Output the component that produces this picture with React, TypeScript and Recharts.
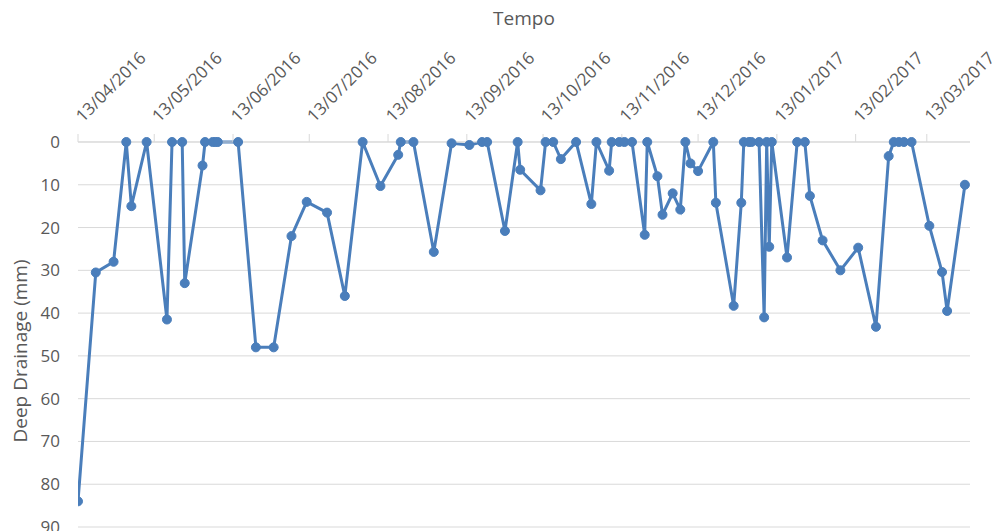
import React from 'react';
import { LineChart, Line, XAxis, YAxis, CartesianGrid } from 'recharts';

const dates = [
  '13/04/2016', '20/04/2016', '27/04/2016', '02/05/2016', '04/05/2016', '10/05/2016', '18/05/2016', '20/05/2016',
  '24/05/2016', '25/05/2016', '01/06/2016', '02/06/2016', '05/06/2016', '06/06/2016', '07/06/2016', '15/06/2016',
  '22/06/2016', '29/06/2016', '06/07/2016', '12/07/2016', '20/07/2016', '27/07/2016', '03/08/2016', '10/08/2016',
  '17/08/2016', '18/08/2016', '23/08/2016', '31/08/2016', '07/09/2016', '14/09/2016', '19/09/2016', '21/09/2016',
  '28/09/2016', '03/10/2016', '04/10/2016', '12/10/2016', '14/10/2016', '17/10/2016', '20/10/2016', '26/10/2016',
  '01/11/2016', '03/11/2016', '08/11/2016', '09/11/2016', '12/11/2016', '14/11/2016', '17/11/2016', '22/11/2016',
  '23/11/2016', '27/11/2016', '29/11/2016', '03/12/2016', '06/12/2016', '08/12/2016', '10/12/2016', '13/12/2016',
  '19/12/2016', '20/12/2016', '27/12/2016', '30/12/2016', '31/12/2016', '02/01/2017', '03/01/2017', '06/01/2017',
  '08/01/2017', '09/01/2017', '10/01/2017', '11/01/2017', '17/01/2017', '21/01/2017', '24/01/2017', '26/01/2017',
  '31/01/2017', '07/02/2017', '14/02/2017', '21/02/2017', '26/02/2017', '28/02/2017', '02/03/2017', '04/03/2017',
  '07/03/2017', '14/03/2017', '19/03/2017', '21/03/2017', '28/03/2017',
];

const drainage = [
  84, 30.5, 28, 0, 15, 0, 41.5, 0,
  0, 33, 5.5, 0, 0, 0, 0, 0,
  48, 48, 22, 14, 16.5, 36, 0, 10.3,
  3, 0, 0, 25.7, 0.3, 0.7, 0, 0,
  20.8, 0, 6.5, 11.3, 0, 0, 4, 0,
  14.5, 0, 6.7, 0, 0, 0, 0, 21.7,
  0, 8, 17, 12, 15.8, 0, 5, 6.8,
  0, 14.2, 38.3, 14.2, 0, 0, 0, 0,
  41, 0, 24.5, 0, 27, 0, 0, 12.6,
  23, 30, 24.7, 43.2, 3.3, 0, 0, 0,
  0, 19.6, 30.4, 39.5, 10,
];

const tickDates = [
  '13/04/2016', '13/05/2016', '13/06/2016', '13/07/2016', '13/08/2016', '13/09/2016',
  '13/10/2016', '13/11/2016', '13/12/2016', '13/01/2017', '13/02/2017', '13/03/2017',
];

const yTicks = [0, 10, 20, 30, 40, 50, 60, 70, 80, 90];

const domainStart = '13/04/2016';
const domainEnd = '30/03/2017';

const toDay = (s: string) => {
  const [d, m, y] = s.split('/').map(Number);
  return Date.UTC(y, m - 1, d) / 86400000;
};

const fmt = (n: number) => {
  const dt = new Date(n * 86400000);
  const dd = String(dt.getUTCDate()).padStart(2, '0');
  const mm = String(dt.getUTCMonth() + 1).padStart(2, '0');
  return `${dd}/${mm}/${dt.getUTCFullYear()}`;
};

const data = dates.map((d, i) => ({ t: toDay(d), v: drainage[i] }));

const FONT = '"Open Sans", sans-serif';
const TEXT = '#595959';
const BLUE = '#4A7EBB';

const DateTick = (props: any) => {
  const { x, y, payload } = props;
  return (
    <g transform={`translate(${x + 5},${y})`}>
      <text x={0} y={0} transform="rotate(-45)" textAnchor="start" fill={TEXT} fontSize={17} fontFamily={FONT}>
        {fmt(payload.value)}
      </text>
    </g>
  );
};

const YLabel = () => (
  <text x={0} y={0} transform="translate(27,351) rotate(-90)" textAnchor="middle" fill={TEXT} fontSize={19} fontFamily={FONT}>
    Deep Drainage (mm)
  </text>
);

export default function App() {
  return (
    <div style={{ position: 'absolute', left: 0, top: 0, background: '#fff' }}>
      <LineChart width={1000} height={531} data={data} margin={{ top: 1, right: 30, bottom: 4, left: 0 }}>
        <CartesianGrid horizontal={true} vertical={false} stroke="#d9d9d9" />
        <XAxis
          dataKey="t"
          type="number"
          orientation="top"
          domain={[toDay(domainStart), toDay(domainEnd)]}
          ticks={tickDates.map(toDay)}
          allowDataOverflow
          height={141}
          tickSize={8}
          tickMargin={11}
          stroke="#d9d9d9"
          tick={<DateTick />}
          interval={0}
          label={{ value: 'Tempo', position: 'insideTop', offset: 11, fill: TEXT, fontSize: 19, fontFamily: FONT }}
        />
        <YAxis
          type="number"
          reversed
          domain={[0, 90]}
          ticks={yTicks}
          width={78}
          axisLine={false}
          tickLine={false}
          tickSize={6}
          tickMargin={12}
          interval={0}
          tick={{ fill: TEXT, fontSize: 17, fontFamily: FONT }}
          label={<YLabel />}
        />
        <Line
          type="linear"
          dataKey="v"
          stroke={BLUE}
          strokeWidth={3}
          dot={{ r: 4.5, fill: BLUE, stroke: BLUE, strokeWidth: 1 }}
          isAnimationActive={false}
        />
      </LineChart>
    </div>
  );
}
